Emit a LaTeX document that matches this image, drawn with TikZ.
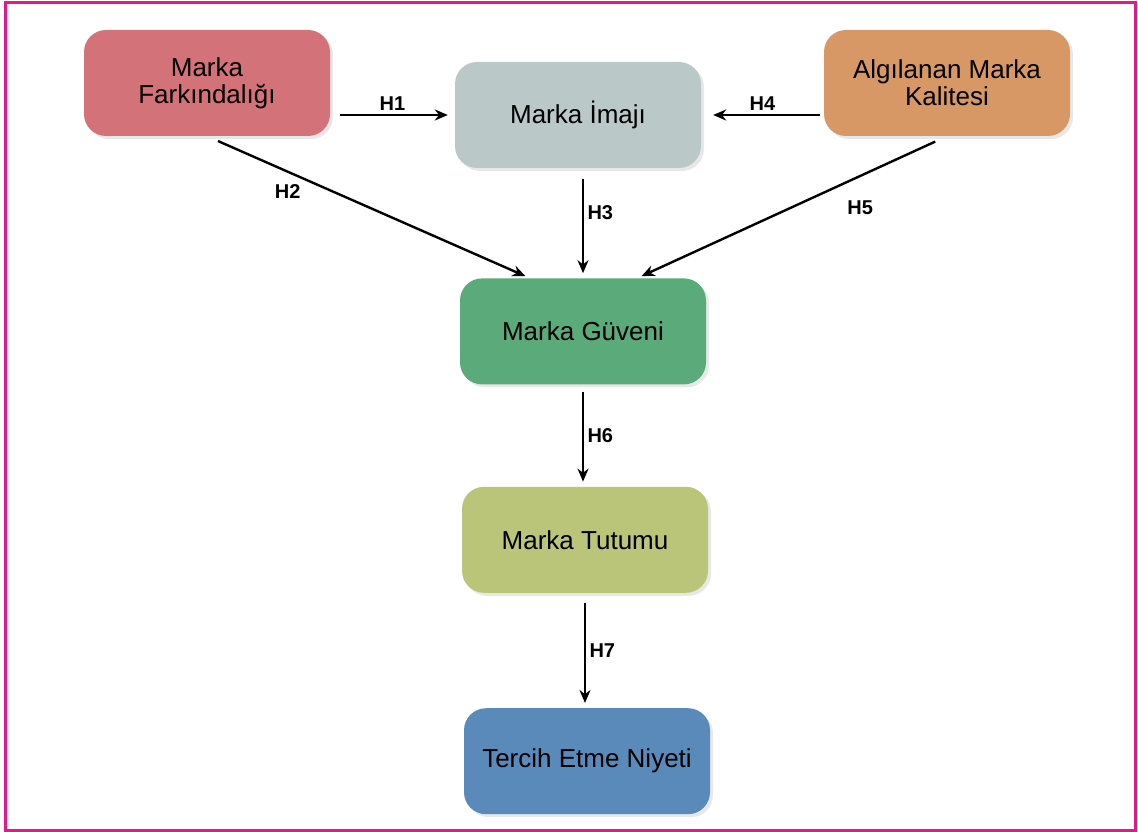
\documentclass[tikz,border=0pt]{standalone}
\usepackage{fontspec}
\setmainfont{Liberation Sans}
\usetikzlibrary{positioning, shadows, arrows.meta}

\definecolor{farkrenk}{RGB}{212,114,122}
\definecolor{imajrenk}{RGB}{186,200,200}
\definecolor{kaliterenk}{RGB}{215,152,102}
\definecolor{guvenrenk}{RGB}{90,170,122}
\definecolor{tutumrenk}{RGB}{186,197,122}
\definecolor{niyetrenk}{RGB}{90,138,186}
\definecolor{cerceve}{RGB}{230,22,140}

\begin{document}
\begin{tikzpicture}[x=1pt, y=-1pt, node distance=10pt,
        kutu/.style={rounded corners=22pt, minimum width=246pt, minimum height=106pt,
            align=center, font=\fontsize{26}{27}\selectfont,
            drop shadow={shadow xshift=3pt, shadow yshift=-3pt, fill=black!18}},
        ok/.style={-{Stealth[length=13pt,width=11pt]}, line width=2.4pt},
        etiket/.style={font=\fontsize{20}{22}\selectfont\bfseries}]
        \useasboundingbox (0,0) rectangle (1138,832);
        \draw[line width=3pt, cerceve] (5,3) rectangle (1135,830);

        \node[kutu, fill=farkrenk]                               (farkindalik) at (207,83)  {Marka\\Farkındalığı};
        \node[kutu, fill=imajrenk]                               (imaj)        at (578,115) {Marka İmajı};
        \node[kutu, fill=kaliterenk]                             (kalite)      at (947,83)  {Algılanan Marka\\Kalitesi};
        \node[kutu, fill=guvenrenk, below=110pt of imaj, xshift=5pt]   (guven)  {Marka Güveni};
        \node[kutu, fill=tutumrenk, below=102pt of guven, xshift=2pt]  (tutum)  {Marka Tutumu};
        \node[kutu, fill=niyetrenk, below=115pt of tutum, xshift=2pt]  (niyet)  {Tercih Etme Niyeti};

        \draw[ok, shorten <=10pt, shorten >=7pt] (farkindalik.east |- imaj.west) -- node[etiket, above] {H1} (imaj.west);
        \draw[ok, shorten <=4pt, shorten >=12pt] (kalite.west |- imaj.east) -- node[etiket, above] {H4} (imaj.east);
        \draw[ok, shorten <=12pt, shorten >=5pt] (farkindalik.south) -- node[etiket, pos=0.25, below=8pt] {H2} ([xshift=-53pt]guven.north);
        \draw[ok, shorten <=11pt, shorten >=5pt] (imaj.south -| guven.north) -- node[etiket, right, pos=0.4] {H3} (guven.north);
        \draw[ok, shorten <=13pt, shorten >=5pt] (kalite.south) -- node[etiket, pos=0.28, below=20pt] {H5} ([xshift=54pt]guven.north);
        \draw[ok, shorten <=7pt, shorten >=5pt] (guven.south) -- node[etiket, right] {H6} (guven.south |- tutum.north);
        \draw[ok, shorten <=10pt, shorten >=5pt] (tutum.south) -- node[etiket, right] {H7} (tutum.south |- niyet.north);
    \end{tikzpicture}
\end{document}
